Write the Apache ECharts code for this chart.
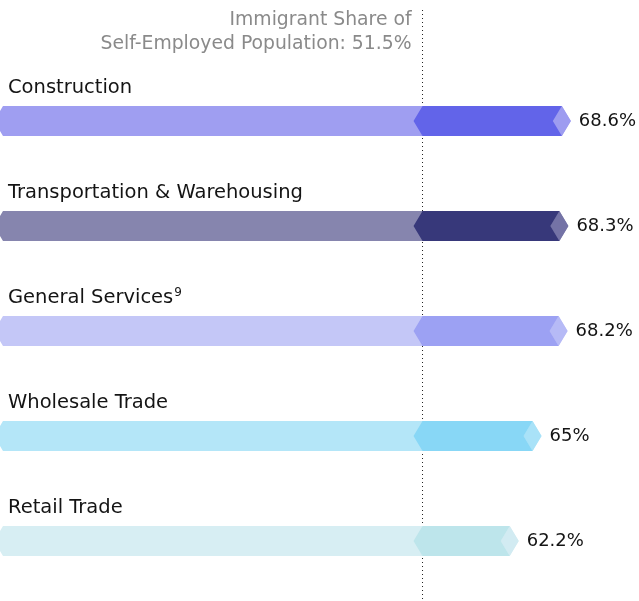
<!DOCTYPE html>
<html>
<head>
<meta charset="utf-8">
<style>
  html, body { margin: 0; padding: 0; background: #fff; }
  #chart { width: 639px; height: 601px; }
</style>
<script src="https://cdn.jsdelivr.net/npm/echarts@6/dist/echarts.min.js"></script>
</head>
<body>
<div id="chart"></div>
<script>
// industries and immigrant share of self-employed (%)
const categories = ['Construction', 'Transportation & Warehousing', 'General Services', 'Wholesale Trade', 'Retail Trade'];
const shares = [68.6, 68.3, 68.2, 65, 62.2];
const valueLabels = ['68.6%', '68.3%', '68.2%', '65%', '62.2%'];
const footnotes = ['', '', '9', '', ''];
const overallShare = 51.5;
const overallText = ['Immigrant Share of', 'Self-Employed Population: 51.5%'];

const lightColors = ['#9f9ef1', '#8685ae', '#c4c7f7', '#b4e6f8', '#d7eef3'];
const darkColors = ['#6264e9', '#37387a', '#9ca1f3', '#88d7f6', '#bde5eb'];
const tipColors = ['#9d9cf0', '#7473a6', '#b6baf6', '#a9e2f8', '#d2ebf2'];

const FONT = '"DejaVu Sans", sans-serif';
const HALF = 15;   // half bar height
const CHEV = 9;    // chevron depth

const chart = echarts.init(document.getElementById('chart'));

function renderItem(params, api) {
  const i = params.dataIndex;
  const v = api.value(1);
  const cy = api.coord([0, i])[1];
  const x0 = api.coord([0, i])[0];
  const xb = api.coord([overallShare, i])[0];
  const xv = api.coord([v, i])[0];
  const top = cy - HALF, bot = cy + HALF;
  const children = [
    { // light full bar
      type: 'polygon', z2: 1,
      shape: { points: [[x0 - CHEV, cy], [x0, top], [xv, top], [xv + CHEV, cy], [xv, bot], [x0, bot]] },
      style: { fill: lightColors[i] }
    },
    { // tip
      type: 'polygon', z2: 2,
      shape: { points: [[xv - CHEV, cy], [xv, top], [xv + CHEV, cy], [xv, bot]] },
      style: { fill: tipColors[i] }
    },
    { // dark part above overall share
      type: 'polygon', z2: 3,
      shape: { points: [[xb - CHEV, cy], [xb, top], [xv, top], [xv - CHEV, cy], [xv, bot], [xb, bot]] },
      style: { fill: darkColors[i] }
    },
    {
      type: 'text', z2: 4,
      x: 8, y: cy - 33,
      style: {
        text: categories[i] + (footnotes[i] ? '{sup|' + footnotes[i] + '}' : ''),
        fill: '#141414', font: '19.5px ' + FONT,
        verticalAlign: 'middle', align: 'left',
        rich: { sup: { fontSize: 12, fill: '#141414', fontFamily: FONT, verticalAlign: 'top', padding: [0, 0, 10, 1] } }
      }
    },
    {
      type: 'text', z2: 4,
      x: xv + CHEV + 8, y: cy,
      style: { text: valueLabels[i], fill: '#141414', font: '18px ' + FONT, verticalAlign: 'middle', align: 'left' }
    }
  ];
  if (i === 0) {
    // reference line for the overall share, kept under the bars
    children.push({
      type: 'line', z2: -10,
      shape: { x1: xb, y1: 10, x2: xb, y2: 601 },
      style: { stroke: '#222', lineWidth: 1, lineDash: [1, 3] }
    });
    children.push({
      type: 'text', z2: 4,
      x: xb - 11, y: 20,
      style: { text: overallText[0], fill: '#8a8a8a', font: '18.8px ' + FONT, align: 'right', verticalAlign: 'middle' }
    });
    children.push({
      type: 'text', z2: 4,
      x: xb - 11, y: 44,
      style: { text: overallText[1], fill: '#8a8a8a', font: '18.8px ' + FONT, align: 'right', verticalAlign: 'middle' }
    });
  }
  return { type: 'group', children: children };
}

chart.setOption({
  animation: false,
  grid: { left: 3, right: 0.6, top: 68.5, bottom: 7.5 },
  xAxis: { type: 'value', min: 0, max: 78, show: false },
  yAxis: { type: 'category', data: categories, inverse: true, show: false },
  series: [{
    type: 'custom',
    renderItem: renderItem,
    encode: { x: 1, y: 0 },
    data: shares.map((s, i) => [i, s]),
    clip: false
  }]
});
</script>
</body>
</html>
